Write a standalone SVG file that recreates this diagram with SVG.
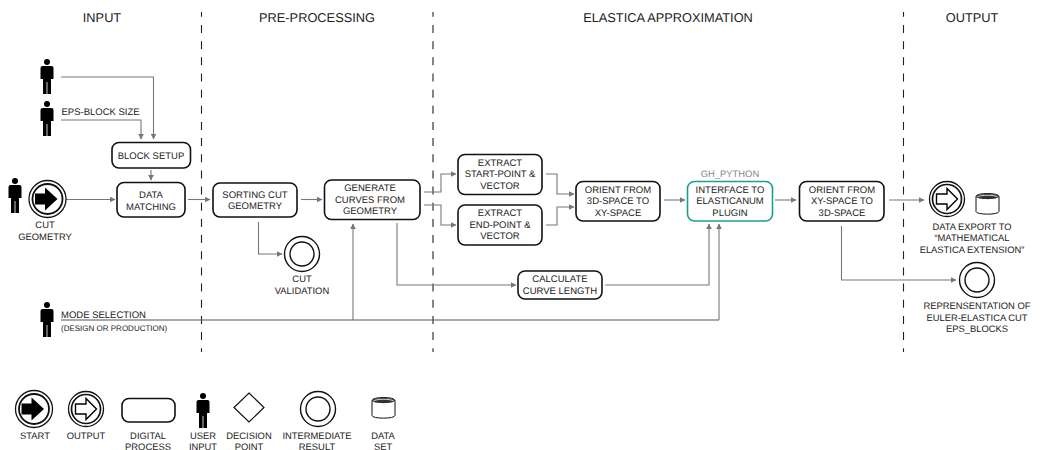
<svg xmlns="http://www.w3.org/2000/svg" width="1040" height="450" viewBox="0 0 1040 450">
<style>
text{font-family:"Liberation Sans",Arial,sans-serif;font-size:9.5px;fill:#222;text-anchor:middle;text-rendering:geometricPrecision}
.h{font-size:12.8px}
.b{font-size:9.4px}
.s{font-size:8px}
.l{text-anchor:start}
.g{fill:#888;font-size:9.4px}
.n{fill:#fff;stroke:#111;stroke-width:1.6}
.t{fill:#fff;stroke:#1f9e8f;stroke-width:1.6}
.c{fill:none;stroke:#777;stroke-width:1.1;marker-end:url(#a)}
.p{fill:none;stroke:#555;stroke-width:1.1}
.d{fill:none;stroke:#222;stroke-width:1.1;stroke-dasharray:8 8.16;stroke-dashoffset:3.16}
.o{fill:#fff;stroke:#111;stroke-width:1.3}
</style>
<defs>
<marker id="a" markerUnits="userSpaceOnUse" markerWidth="6" markerHeight="6" refX="5" refY="3" orient="auto"><path d="M0 0.2L5.500 3L0 5.800z" fill="#777"/></marker>
<symbol id="person" width="14" height="36" viewBox="0 0 14 36" overflow="visible">
<circle cx="7" cy="3" r="3" fill="#000"/>
<path d="M2.500 7H11.500Q13.500 7 13.500 9V20H11V35H7.400V23H6.600V35H3V20H0.500V9Q0.500 7 2.500 7z" fill="#000"/>
</symbol>
<g id="startSym">
<circle r="18.500" class="o"/><circle r="15" fill="#fff" stroke="#111" stroke-width="1.800"/>
<path d="M-12.500-5.500H-2.500V-11.500L10 0L-2.500 11.500V5.500H-12.500z" fill="#000"/>
</g>
<g id="outSym">
<circle r="17.500" class="o"/><circle r="14.500" fill="#fff" stroke="#111" stroke-width="1.700"/>
<path d="M-10.500-5H0V-10.500L10.500 0L0 10.500V5H-10.500z" fill="#fff" stroke="#000" stroke-width="1.400"/>
</g>
<g id="midSym"><circle r="17.500" fill="#fff" stroke="#111" stroke-width="1.400"/><circle r="12" fill="#fff" stroke="#111" stroke-width="1.400"/></g>
<g id="dbSym">
<path d="M0 3.500C0-0.500 23-0.500 23 3.500V18.500C23 22 0 22 0 18.500z" fill="#fff" stroke="#111" stroke-width="1"/>
<path d="M0 3.500C0 7 23 7 23 3.500C23 0 0 0 0 3.500z" fill="#333"/>
<path d="M1.500 3.800C5 1.800 18 1.800 21.500 3.800" fill="none" stroke="#fff" stroke-width="0.800"/>
</g>
</defs>

<g id="phases">
<text class="h" x="102" y="22">INPUT</text>
<text class="h" x="317" y="22">PRE-PROCESSING</text>
<text class="h" x="668" y="22">ELASTICA APPROXIMATION</text>
<text class="h" x="972" y="22">OUTPUT</text>
<path class="d" d="M201.500 12V352"/>
<path class="d" d="M433 12V352"/>
<path class="d" d="M903.500 12V352"/>
</g>

<g id="connectors">
<path class="c" d="M61 77H153.500V139"/>
<path class="c" d="M61 120H141V139"/>
<path class="c" d="M151 170V180"/>
<path class="c" d="M66 199.500H115"/>
<path class="c" d="M188 199.500H210"/>
<path class="c" d="M301 199.500H322"/>
<path class="c" d="M258.500 222V254H282"/>
<path class="c" d="M397 223V285H516"/>
<path class="c" d="M424 192H441V174H456"/>
<path class="c" d="M424 205H441V225H456"/>
<path class="c" d="M546 174H557V194H574"/>
<path class="c" d="M546 225H557V207H574"/>
<path class="c" d="M664 200H685"/>
<path class="c" d="M605 285H709V224"/>
<path class="p" d="M61 320H719"/>
<path class="c" d="M719 320V224"/>
<path class="c" d="M353 320V224"/>
<path class="c" d="M775 200H796"/>
<path class="c" d="M889 200H924"/>
<path class="c" d="M841.500 226V280H956"/>
</g>

<g id="user-top"><use href="#person" x="40" y="59"/></g>
<g id="user-eps"><use href="#person" x="40" y="101"/><text class="l" x="61.500" y="115">EPS-BLOCK SIZE</text></g>
<g id="user-cut"><use href="#person" x="8" y="178"/></g>
<g id="start-cut"><use href="#startSym" x="47.500" y="199"/><text class="b" x="45" y="228">CUT</text><text class="b" x="45" y="240">GEOMETRY</text></g>
<g id="block-setup"><rect class="n" x="112" y="142.500" width="78.500" height="25.500" rx="7"/><text x="151" y="158.500">BLOCK SETUP</text></g>
<g id="data-matching"><rect class="n" x="117" y="182.500" width="68" height="34.500" rx="7"/><text x="151" y="198">DATA</text><text x="151" y="209.500">MATCHING</text></g>
<g id="sorting"><rect class="n" x="213" y="183" width="84" height="34" rx="7"/><text x="255" y="198">SORTING CUT</text><text x="255" y="209">GEOMETRY</text></g>
<g id="cut-validation"><use href="#midSym" x="302" y="254"/><text class="b" x="302" y="282">CUT</text><text class="b" x="302" y="294">VALIDATION</text></g>
<g id="generate"><rect class="n" x="324.500" y="180" width="95.500" height="39.500" rx="7"/><text x="370" y="191">GENERATE</text><text x="370" y="203">CURVES FROM</text><text x="370" y="214">GEOMETRY</text></g>
<g id="extract-start"><rect class="n" x="458" y="154.500" width="84" height="40" rx="7"/><text x="500" y="166">EXTRACT</text><text x="500" y="177">START-POINT &amp;</text><text x="500" y="189">VECTOR</text></g>
<g id="extract-end"><rect class="n" x="458" y="205" width="84" height="40" rx="7"/><text x="500" y="216">EXTRACT</text><text x="500" y="228">END-POINT &amp;</text><text x="500" y="239">VECTOR</text></g>
<g id="orient-xy"><rect class="n" x="576" y="181.500" width="84" height="39.500" rx="7"/><text x="618" y="193">ORIENT FROM</text><text x="618" y="204">3D-SPACE TO</text><text x="618" y="216">XY-SPACE</text></g>
<g id="calc-length"><rect class="n" x="518" y="271" width="84" height="28" rx="7"/><text x="560" y="282">CALCULATE</text><text x="560" y="294">CURVE LENGTH</text></g>
<g id="interface"><text class="g" x="730" y="177">GH_PYTHON</text><rect class="t" x="687.500" y="181.500" width="85" height="39.500" rx="7"/><text x="730" y="193">INTERFACE TO</text><text x="730" y="204">ELASTICANUM</text><text x="730" y="216">PLUGIN</text></g>
<g id="orient-3d"><rect class="n" x="799.500" y="181.500" width="84.500" height="39.500" rx="7"/><text x="842" y="193">ORIENT FROM</text><text x="842" y="204">XY-SPACE TO</text><text x="842" y="216">3D-SPACE</text></g>
<g id="export"><use href="#outSym" x="947" y="199"/><use href="#dbSym" x="976" y="193"/><text class="b" x="972" y="230">DATA EXPORT TO</text><text class="b" x="972" y="241">“MATHEMATICAL</text><text class="b" x="972" y="253">ELASTICA EXTENSION”</text></g>
<g id="representation"><use href="#midSym" x="977" y="280"/><text class="b" x="977" y="309">REPRENSENTATION OF</text><text class="b" x="977" y="321">EULER-ELASTICA CUT</text><text class="b" x="977" y="332">EPS_BLOCKS</text></g>
<g id="user-mode"><use href="#person" x="40" y="302"/><text class="l" x="61" y="318">MODE SELECTION</text><text class="l s" x="61" y="331">(DESIGN OR PRODUCTION)</text></g>

<g id="legend">
<g id="legend-start"><use href="#startSym" x="34" y="409"/><text class="b" x="35" y="439">START</text></g>
<g id="legend-output"><use href="#outSym" x="86" y="409"/><text class="b" x="86" y="439">OUTPUT</text></g>
<g id="legend-process"><rect class="n" x="122" y="398.500" width="53" height="23.500" rx="7"/><text class="b" x="148" y="439">DIGITAL</text><text class="b" x="148" y="450">PROCESS</text></g>
<g id="legend-user"><use href="#person" x="196" y="393"/><text class="b" x="203" y="439">USER</text><text class="b" x="203" y="450">INPUT</text></g>
<g id="legend-decision"><path d="M249 393L264 407.500L249 422L234 407.500z" fill="#fff" stroke="#111" stroke-width="1.200"/><text class="b" x="249" y="439">DECISION</text><text class="b" x="249" y="450">POINT</text></g>
<g id="legend-intermediate"><use href="#midSym" x="318" y="409"/><text class="b" x="317" y="439">INTERMEDIATE</text><text class="b" x="317" y="450">RESULT</text></g>
<g id="legend-data"><use href="#dbSym" x="372" y="397"/><text class="b" x="383" y="439">DATA</text><text class="b" x="383" y="450">SET</text></g>
</g>
</svg>
